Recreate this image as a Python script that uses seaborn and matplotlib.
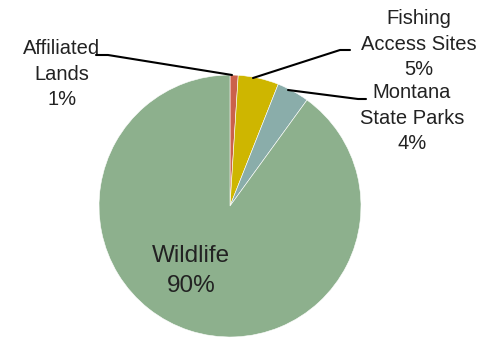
import matplotlib
matplotlib.use("Agg")
import matplotlib.pyplot as plt
import seaborn as sns

# Share of acreage by program
categories = ["Affiliated\nLands", "Fishing\nAccess Sites", "Montana\nState Parks", "Wildlife"]
shares = [1, 5, 4, 90]
colors = ["#CB614B", "#CEB600", "#8AADAA", "#8DB08D"]

sns.set_theme(style="white")
plt.rcParams["font.family"] = ["Liberation Sans", "DejaVu Sans"]

W, H = 488, 339
fig = plt.figure(figsize=(W / 100, H / 100), dpi=100)
ax = fig.add_axes([0, 0, 1, 1])

cx, cy, r = 230, H - 206, 131
wedges, _ = ax.pie(shares, colors=colors, startangle=90, counterclock=False,
                   center=(cx, cy), radius=r, frame=True,
                   wedgeprops=dict(edgecolor="white", linewidth=0.4))
ax.set_xlim(0, W)
ax.set_ylim(0, H)
ax.set_aspect("equal")
ax.axis("off")

labels = [f"{c}\n{s}%" for c, s in zip(categories, shares)]
txt = dict(color="#222222", ha="center", va="center")

# Outside labels with leader lines
ax.text(62, H - 74, labels[0], fontsize=14.5, linespacing=1.45, **txt)
ax.plot([96, 108, 232], [H - 55, H - 55, H - 75], color="black", lw=1.5)

ax.text(419, H - 44, labels[1], fontsize=14.5, linespacing=1.45, **txt)
ax.plot([253, 340, 350], [H - 78, H - 50, H - 50], color="black", lw=1.5)

ax.text(412, H - 118, labels[2], fontsize=14.5, linespacing=1.45, **txt)
ax.plot([288, 358, 366], [H - 90, H - 99, H - 99], color="black", lw=1.5)

# Inside label
ax.text(191, H - 271, labels[3], fontsize=17.5, linespacing=1.42, **txt)

fig.savefig("out.png", dpi=100)
